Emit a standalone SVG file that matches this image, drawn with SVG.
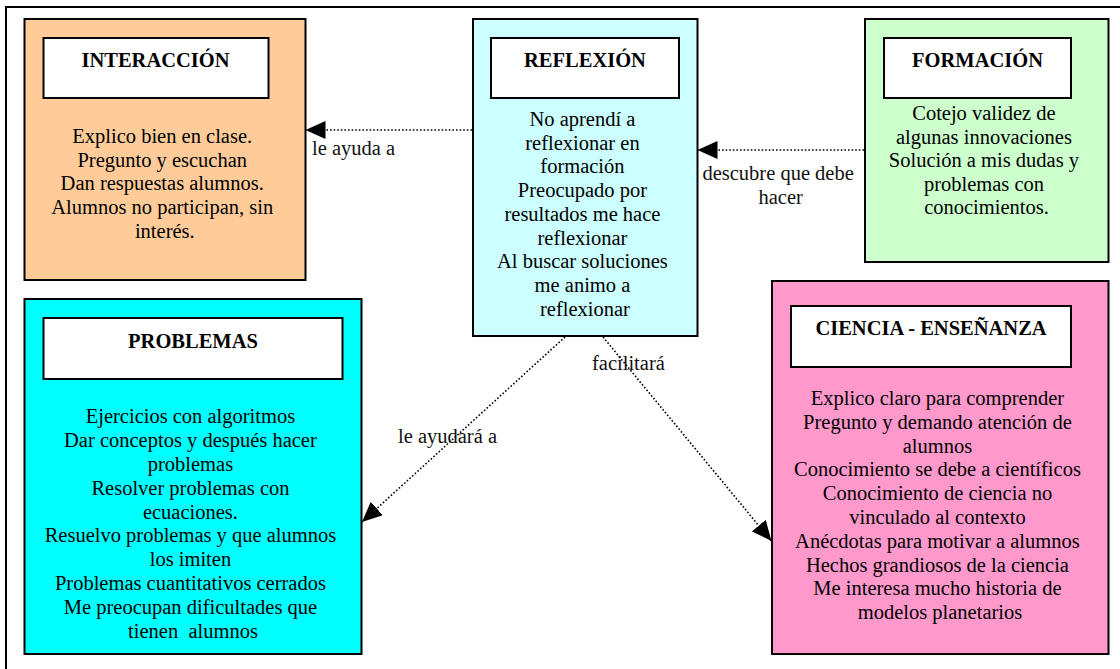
<svg xmlns="http://www.w3.org/2000/svg" width="1120" height="669" viewBox="0 0 1120 669">
  <style>
    .box { stroke: #000; stroke-width: 2; }
    .title-box { fill: #fff; stroke: #000; stroke-width: 2; }
    .title { font-family: "Liberation Serif", "Times New Roman", serif; font-size: 20.5px; font-weight: bold; fill: #000; text-anchor: middle; }
    .body { font-family: "Liberation Serif", "Times New Roman", serif; font-size: 20.5px; fill: #000; text-anchor: middle; }
    .label { font-family: "Liberation Serif", "Times New Roman", serif; font-size: 20.5px; fill: #111; }
    .link { fill: none; stroke: #000; stroke-width: 1.6; stroke-dasharray: 1.6 2; marker-end: url(#head); }
  </style>
  <defs>
    <marker id="head" markerUnits="userSpaceOnUse" markerWidth="21" markerHeight="19" refX="20" refY="9" orient="auto">
      <path d="M0,0 L20,9 L0,18 Z" fill="#000"/>
    </marker>
  </defs>

  <rect width="1120" height="669" fill="#fff"/>
  <!-- page frame: top and left edges -->
  <path d="M6,700 L6,7 L1130,7" fill="none" stroke="#000" stroke-width="2"/>

  <g id="interaccion">
    <rect class="box" x="24.5" y="19" width="281" height="261" fill="#FFCC99"/>
    <rect class="title-box" x="43.5" y="38" width="225" height="60"/>
    <text class="title" x="155.5" y="67">INTERACCIÓN</text>
    <text class="body" x="164.8" y="143">
      <tspan x="164.8">Explico bien en clase.</tspan>
      <tspan x="164.8" dy="23.7">Pregunto y escuchan</tspan>
      <tspan x="164.8" dy="23.7">Dan respuestas alumnos.</tspan>
      <tspan x="164.8" dy="23.7">Alumnos no participan, sin</tspan>
      <tspan x="164.8" dy="23.7">interés.</tspan>
    </text>
  </g>

  <g id="reflexion">
    <rect class="box" x="473" y="19" width="224.5" height="317" fill="#CCFFFF"/>
    <rect class="title-box" x="491" y="38" width="188" height="60"/>
    <text class="title" x="585" y="67">REFLEXIÓN</text>
    <text class="body" x="585" y="126">
      <tspan x="585">No aprendí a</tspan>
      <tspan x="585" dy="23.7">reflexionar en</tspan>
      <tspan x="585" dy="23.7">formación</tspan>
      <tspan x="585" dy="23.7">Preocupado por</tspan>
      <tspan x="585" dy="23.7">resultados me hace</tspan>
      <tspan x="585" dy="23.7">reflexionar</tspan>
      <tspan x="585" dy="23.7">Al buscar soluciones</tspan>
      <tspan x="585" dy="23.7">me animo a</tspan>
      <tspan x="585" dy="23.7">reflexionar</tspan>
    </text>
  </g>

  <g id="formacion">
    <rect class="box" x="865" y="19" width="243.5" height="243" fill="#CCFFCC"/>
    <rect class="title-box" x="884" y="38" width="187" height="60"/>
    <text class="title" x="977.5" y="67">FORMACIÓN</text>
    <text class="body" x="986.5" y="120">
      <tspan x="986.5">Cotejo validez de</tspan>
      <tspan x="986.5" dy="23.6">algunas innovaciones</tspan>
      <tspan x="986.5" dy="23.6">Solución a mis dudas y</tspan>
      <tspan x="986.5" dy="23.6">problemas con</tspan>
      <tspan x="986.5" dy="23.6">conocimientos.</tspan>
    </text>
  </g>

  <g id="problemas">
    <rect class="box" x="24.5" y="299" width="337" height="355" fill="#00FFFF"/>
    <rect class="title-box" x="43.5" y="318" width="299" height="61"/>
    <text class="title" x="193" y="348">PROBLEMAS</text>
    <text class="body" x="193" y="423.3">
      <tspan x="193">Ejercicios con algoritmos</tspan>
      <tspan x="193" dy="23.8">Dar conceptos y después hacer</tspan>
      <tspan x="193" dy="23.8">problemas</tspan>
      <tspan x="193" dy="23.8">Resolver problemas con</tspan>
      <tspan x="193" dy="23.8">ecuaciones.</tspan>
      <tspan x="193" dy="23.8">Resuelvo problemas y que alumnos</tspan>
      <tspan x="193" dy="23.8">los imiten</tspan>
      <tspan x="193" dy="23.8">Problemas cuantitativos cerrados</tspan>
      <tspan x="193" dy="23.8">Me preocupan dificultades que</tspan>
      <tspan x="193" dy="23.8" xml:space="preserve">tienen  alumnos</tspan>
    </text>
  </g>

  <g id="ciencia-ensenanza">
    <rect class="box" x="772" y="281" width="336.5" height="373" fill="#FF99CC"/>
    <rect class="title-box" x="791" y="306" width="280" height="61"/>
    <text class="title" x="931" y="334.5">CIENCIA - ENSEÑANZA</text>
    <text class="body" x="940" y="405">
      <tspan x="940">Explico claro para comprender</tspan>
      <tspan x="940" dy="23.8">Pregunto y demando atención de</tspan>
      <tspan x="940" dy="23.8">alumnos</tspan>
      <tspan x="940" dy="23.8">Conocimiento se debe a científicos</tspan>
      <tspan x="940" dy="23.8">Conocimiento de ciencia no</tspan>
      <tspan x="940" dy="23.8">vinculado al contexto</tspan>
      <tspan x="940" dy="23.8">Anécdotas para motivar a alumnos</tspan>
      <tspan x="940" dy="23.8">Hechos grandiosos de la ciencia</tspan>
      <tspan x="940" dy="23.8">Me interesa mucho historia de</tspan>
      <tspan x="940" dy="23.8">modelos planetarios</tspan>
    </text>
  </g>

  <g id="connectors">
    <line class="link" x1="472" y1="130" x2="305.5" y2="130"/>
    <text class="label" x="312" y="155">le ayuda a</text>

    <line class="link" x1="864" y1="150" x2="697.5" y2="150"/>
    <text class="label" text-anchor="middle" x="780.7" y="180">
      <tspan x="780.7">descubre que debe</tspan>
      <tspan x="780.7" dy="23.5">hacer</tspan>
    </text>

    <line class="link" x1="565" y1="337" x2="362" y2="522"/>
    <text class="label" x="398" y="443">le ayudará a</text>

    <line class="link" x1="603" y1="337" x2="771.5" y2="541"/>
    <text class="label" x="592" y="370">facilitará</text>
  </g>
</svg>
